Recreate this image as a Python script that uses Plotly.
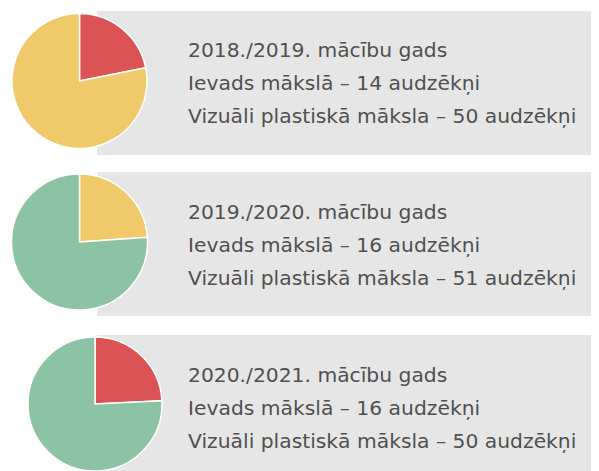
import plotly.graph_objects as go

# The page body adds an 8px margin, so the figure is 8px smaller and all
# pixel positions below are given in page coordinates, then shifted.
OFF = 8
W, H = 599 - OFF, 471 - OFF

years = ["2018./2019. mācību gads", "2019./2020. mācību gads", "2020./2021. mācību gads"]
ievads = [14, 16, 16]
vizuali = [50, 51, 50]
slice_colors = [["#DC5356", "#EFC96A"], ["#EFC96A", "#8CC3A5"], ["#DC5356", "#8CC3A5"]]

# layout (page pixels)
pie_boxes = [(12, 147, 13.5, 148.5), (11.5, 147.5, 174, 310), (28, 162, 337, 471)]
gray_boxes = [(97, 11, 155), (97, 172, 316), (97, 335, 480)]
text_rows = [(50, 83, 116), (212, 245, 278), (375, 408, 441)]

def px(x):
    return (x - OFF) / W

def py(y):
    return 1 - (y - OFF) / H

fig = go.Figure()
for i in range(3):
    x0, x1, y0, y1 = pie_boxes[i]
    fig.add_trace(go.Pie(
        values=[ievads[i], vizuali[i]],
        labels=["Ievads mākslā", "Vizuāli plastiskā māksla"],
        marker=dict(colors=slice_colors[i], line=dict(color="white", width=1.5)),
        sort=False, direction="clockwise", rotation=0,
        textinfo="none", hoverinfo="label+value",
        domain=dict(x=[max(0, px(x0)), min(1, px(x1))], y=[max(0, py(y1)), min(1, py(y0))]),
        showlegend=False,
    ))

shapes = []
for (gx, gy0, gy1) in gray_boxes:
    shapes.append(dict(type="rect", xref="paper", yref="paper", x0=px(gx), x1=1.02,
                       y0=py(gy1), y1=py(gy0), fillcolor="#E6E6E6", line=dict(width=0), layer="below"))

annotations = []
for i in range(3):
    lines = [years[i], f"Ievads mākslā – {ievads[i]} audzēkņi",
             f"Vizuāli plastiskā māksla – {vizuali[i]} audzēkņi"]
    for ln, yy in zip(lines, text_rows[i]):
        annotations.append(dict(text=ln, x=px(185.5), y=py(yy), xref="paper", yref="paper",
                                xanchor="left", yanchor="middle", showarrow=False,
                                font=dict(family="DejaVu Sans", size=20.3, color="#505050")))

fig.update_layout(width=W, height=H, margin=dict(l=0, r=0, t=0, b=0),
                  paper_bgcolor="white", plot_bgcolor="white",
                  shapes=shapes, annotations=annotations)
fig.write_html("out.html")
